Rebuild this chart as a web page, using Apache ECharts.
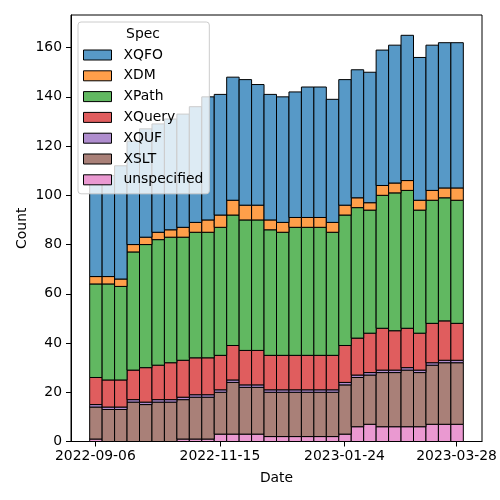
<!DOCTYPE html>
<html>
<head>
<meta charset="utf-8">
<script src="https://cdn.jsdelivr.net/npm/echarts@6/dist/echarts.min.js"></script>
<style>html,body{margin:0;padding:0;background:#fff}#c{width:500px;height:500px}</style>
</head>
<body>
<div id="c"></div>
<script>
// ---- data ----
const binStart = '2022-09-02T19:00:00Z';
const binDays = 7;
const specs = ['XQFO', 'XDM', 'XPath', 'XQuery', 'XQUF', 'XSLT', 'unspecified'];
const unspecified = [1,0,0,0,0,0,0,1,1,1,3,3,3,3,2,2,2,2,2,2,3,6,7,6,6,6,6,7,7,7];
const XSLT  = [13,13,13,16,15,16,16,16,17,17,17,21,19,19,18,18,18,18,18,18,20,20,20,22,22,23,22,24,25,25];
const XQUF  = [1,1,1,1,1,1,1,1,1,1,1,1,1,1,1,1,1,1,1,1,1,1,1,1,1,1,1,1,1,1];
const XQuery= [11,11,11,12,14,14,15,15,15,15,14,14,14,14,14,14,14,14,14,14,15,15,16,17,16,16,15,16,16,15];
const XPath = [38,39,38,48,50,51,51,50,51,51,52,53,53,53,51,50,52,52,52,50,53,53,50,54,56,56,50,50,50,50];
const XDM   = [3,3,3,3,3,3,3,4,4,5,5,6,6,6,4,4,4,4,4,4,4,4,3,4,4,4,4,4,4,5];
const XQFO  = [40,41,46,42,44,44,45,46,47,50,49,50,51,49,51,51,51,53,53,50,51,52,53,55,56,59,58,59,59,59];
const xTickLabels = ['2022-09-06', '2022-11-15', '2023-01-24', '2023-03-28'];
const yTicks = [0, 20, 40, 60, 80, 100, 120, 140, 160];

// ---- styling ----
const colors = {
  XQFO: '#5799c7', XDM: '#ff9f4a', XPath: '#61b861', XQuery: '#e05d5e',
  XQUF: '#af8dce', XSLT: '#a98078', unspecified: '#ea99d1'
};
const layerValues = { unspecified, XSLT, XQUF, XQuery, XPath, XDM, XQFO };
const stackOrder = ['unspecified', 'XSLT', 'XQUF', 'XQuery', 'XPath', 'XDM', 'XQFO'];
const FONT = 'DejaVu Sans';
const FS = 13.9;

const DAY = 86400000;
const t0 = Date.parse(binStart);
const bw = binDays * DAY;
const nBins = XQFO.length;
const tEnd = t0 + nBins * bw;
const pad = 0.05 * (tEnd - t0);
const maxTotal = Math.max(...XQFO.map((_, i) => stackOrder.reduce((s, k) => s + layerValues[k][i], 0)));

const cum = new Array(nBins).fill(0);
const series = stackOrder.map(name => {
  const vals = layerValues[name];
  const data = vals.map((v, i) => {
    const base = cum[i];
    cum[i] += v;
    return [t0 + i * bw, t0 + (i + 1) * bw, base, base + v];
  });
  return {
    name, type: 'custom',
    itemStyle: { color: colors[name] },
    encode: { x: [0, 1], y: [2, 3] },
    data,
    renderItem(params, api) {
      const x0 = api.value(0), x1 = api.value(1), y0 = api.value(2), y1 = api.value(3);
      if (y1 - y0 <= 0) return null;
      const p0 = api.coord([x0, y1]);
      const p1 = api.coord([x1, y0]);
      return {
        type: 'rect',
        shape: { x: p0[0], y: p0[1], width: p1[0] - p0[0], height: p1[1] - p0[1] },
        style: { fill: colors[name], stroke: '#000', lineWidth: 1 }
      };
    }
  };
});

const tickMs = xTickLabels.map(s => Date.parse(s + 'T00:00:00Z'));
function fmt(v) {
  const d = new Date(v);
  const p = n => String(n).padStart(2, '0');
  return d.getUTCFullYear() + '-' + p(d.getUTCMonth() + 1) + '-' + p(d.getUTCDate());
}

const chart = echarts.init(document.getElementById('c'), null, { renderer: 'canvas' });
chart.setOption({
  animation: false,
  backgroundColor: '#fff',
  grid: { left: 71, top: 15, width: 411, height: 426.5, show: true, borderColor: '#000', borderWidth: 1, backgroundColor: 'transparent' },
  xAxis: {
    type: 'value', min: t0 - pad, max: tEnd + pad, scale: true,
    name: 'Date', nameLocation: 'middle', nameGap: 30, nameMoveOverlap: false,
    nameTextStyle: { fontFamily: FONT, fontSize: FS, color: '#000' },
    axisLine: { show: true, lineStyle: { color: '#000', width: 1 } },
    axisTick: { show: true, length: 5, lineStyle: { color: '#000', width: 1 }, customValues: tickMs },
    axisLabel: { customValues: tickMs, formatter: fmt, fontFamily: FONT, fontSize: FS, color: '#000', margin: 8 },
    splitLine: { show: false }
  },
  yAxis: {
    type: 'value', min: 0, max: maxTotal * 1.05,
    name: 'Count', nameLocation: 'middle', nameGap: 42, nameMoveOverlap: false,
    nameTextStyle: { fontFamily: FONT, fontSize: FS, color: '#000' },
    axisLine: { show: true, lineStyle: { color: '#000', width: 1 } },
    axisTick: { show: true, length: 5, lineStyle: { color: '#000', width: 1 }, customValues: yTicks },
    axisLabel: { customValues: yTicks, fontFamily: FONT, fontSize: FS, color: '#000', margin: 9 },
    splitLine: { show: false }
  },
  legend: {
    orient: 'vertical', left: 78, top: 22,
    padding: [25, 6, 6, 5],
    itemWidth: 28, itemHeight: 10, itemGap: 4.8,
    backgroundColor: 'rgba(255,255,255,0.8)', borderColor: '#cccccc', borderWidth: 1, borderRadius: 3,
    textStyle: { fontFamily: FONT, fontSize: FS, color: '#000', lineHeight: 16, padding: [0, 0, 0, 7] },
    selectedMode: false,
    data: specs.map(s => ({ name: s, icon: 'rect', itemStyle: { color: colors[s], borderColor: '#000', borderWidth: 1 } }))
  },
  graphic: [{
    type: 'text', x: 143, y: 34, z: 100,
    style: { text: 'Spec', font: FS + 'px "' + FONT + '"', textAlign: 'center', textVerticalAlign: 'middle', fill: '#000' }
  }],
  series
});
</script>
</body>
</html>
